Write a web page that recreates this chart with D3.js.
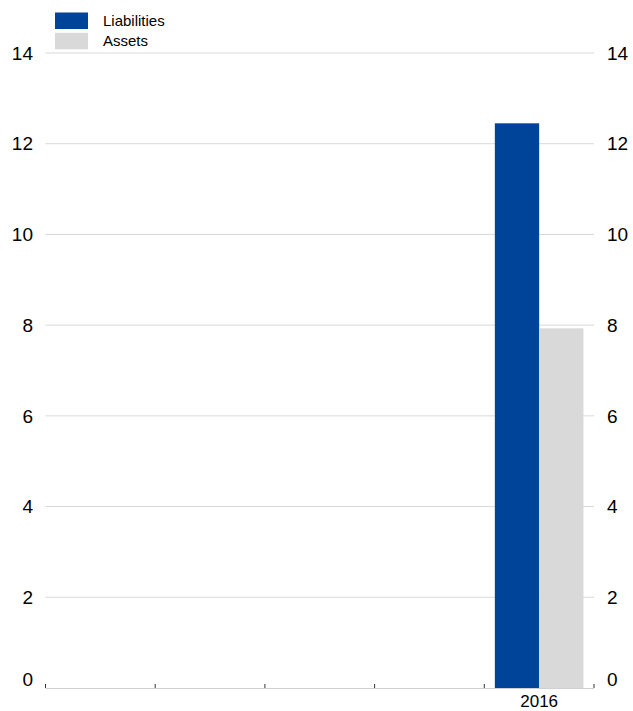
<!DOCTYPE html>
<html>
<head>
<meta charset="utf-8">
<script src="https://cdn.jsdelivr.net/npm/d3@7"></script>
<style>
  body { margin: 0; background: #fff; }
  text { font-family: "Liberation Sans", Arial, sans-serif; fill: #000; }
</style>
</head>
<body>
<svg id="chart" width="633" height="711"></svg>
<script>
const categories = ["2012", "2013", "2014", "2015", "2016"];
const tickLabels = ["", "", "", "", "2016"];
const seriesNames = ["Liabilities", "Assets"];
const liabilities = [null, null, null, null, 12.45];
const assets = [null, null, null, null, 7.93];
const yTicks = [0, 2, 4, 6, 8, 10, 12, 14];
const colors = ["#00449a", "#d9d9d9"];

(function () {
const svg = d3.select("#chart");
const mLeft = 45.5, mRight = 594, mTop = 53, mBottom = 688;

const x = d3.scaleBand().domain(categories).range([mLeft, mRight]).paddingInner(0).paddingOuter(0);
const y = d3.scaleLinear().domain([0, 14]).range([mBottom, mTop]);
const inner = d3.scaleBand().domain(seriesNames).range([0, x.bandwidth()]).paddingInner(0).paddingOuter(0.238);

// gridlines
svg.append("g").selectAll("line").data(yTicks.filter(d => d > 0)).join("line")
  .attr("x1", mLeft).attr("x2", mRight)
  .attr("y1", d => y(d)).attr("y2", d => y(d))
  .attr("stroke", "#d9d9d9").attr("stroke-width", 1);

// bars
const series = [liabilities, assets];
series.forEach((vals, si) => {
  svg.append("g").selectAll("rect")
    .data(categories.map((c, i) => ({ c, v: vals[i] })).filter(d => d.v != null))
    .join("rect")
    .attr("x", d => x(d.c) + inner(seriesNames[si]))
    .attr("width", inner.bandwidth())
    .attr("y", d => y(d.v))
    .attr("height", d => y(0) - y(d.v))
    .attr("fill", colors[si]);
});

// x axis line
svg.append("line").attr("x1", mLeft).attr("x2", mRight)
  .attr("y1", mBottom + 0.5).attr("y2", mBottom + 0.5)
  .attr("stroke", "#d0d0d0").attr("stroke-width", 1);

// tick marks at band boundaries
const bounds = categories.map(c => x(c)).concat([x(categories[categories.length - 1]) + x.bandwidth()]);
svg.append("g").selectAll("line").data(bounds).join("line")
  .attr("x1", d => d).attr("x2", d => d)
  .attr("y1", mBottom - 4).attr("y2", mBottom)
  .attr("stroke", "#333").attr("stroke-width", 1);

// x labels
svg.append("g").selectAll("text").data(categories).join("text")
  .attr("x", d => x(d) + x.bandwidth() / 2)
  .attr("y", 707)
  .attr("text-anchor", "middle")
  .style("font-size", "17px")
  .text((d, i) => tickLabels[i]);

// y labels
const yLab = d => d === 0 ? y(d) - 9 : y(d);
svg.append("g").selectAll("text").data(yTicks).join("text")
  .attr("x", 33).attr("y", d => yLab(d))
  .attr("dy", "0.35em").attr("text-anchor", "end")
  .style("font-size", "19px").text(d => d);
svg.append("g").selectAll("text").data(yTicks).join("text")
  .attr("x", 607).attr("y", d => yLab(d))
  .attr("dy", "0.35em").attr("text-anchor", "start")
  .style("font-size", "19px").text(d => d);

// legend
const leg = svg.append("g");
seriesNames.forEach((name, i) => {
  leg.append("rect").attr("x", 55).attr("y", 12.5 + i * 20.3)
    .attr("width", 33).attr("height", 16.5).attr("fill", colors[i]);
  leg.append("text").attr("x", 103).attr("y", 20.8 + i * 20.3)
    .attr("dy", "0.35em").style("font-size", "15px").text(name);
});
})();
</script>
</body>
</html>
